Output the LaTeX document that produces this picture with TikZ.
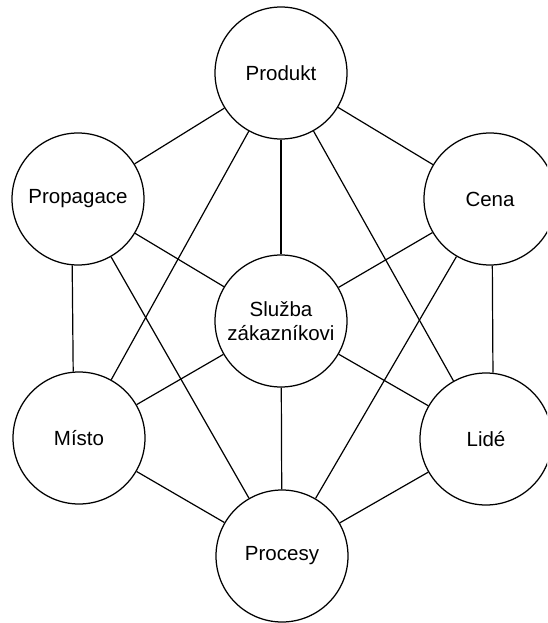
\documentclass[tikz,border=0pt]{standalone}
\usepackage{fontspec}
\setmainfont{Liberation Sans}
\begin{document}
\begin{tikzpicture}[x=1pt, y=-1pt,
  element/.style={draw, circle, line width=1.25pt, minimum size=132pt,
    inner sep=0pt, align=center, font=\fontsize{20.5}{23.5}\selectfont},
  link/.style={line width=1.2pt}]
  % page frame; the right-hand circles run past its edge
  \clip (0,0) rectangle (547,623);
  \useasboundingbox (0,0) rectangle (547,623);

  % the seven elements
  \node[element] (prod)  at (281,73)  {Produkt};
  \node[element] (prop)  at (78,199)  {Propagace};
  \node[element] (cena)  at (490,199) {Cena};
  \node[element] (sluz)  at (281,321) {Služba\\zákazníkovi};
  \node[element] (misto) at (79,438)  {Místo};
  \node[element] (lide)  at (486,439) {Lidé};
  \node[element] (proc)  at (282,556) {Procesy};

  % links from Produkt
  \draw[link] (prod) -- (prop);
  \draw[link] (prod) -- (cena);
  \draw[link] (prod) -- (sluz);
  \draw[link] (prod) -- (misto);
  \draw[link] (prod) -- (lide);
  % links from Propagace
  \draw[link] (prop) -- (sluz);
  \draw[link] (prop.265) -- (misto.95);
  \draw[link] (prop) -- (proc);
  % links from Cena
  \draw[link] (cena) -- (sluz);
  \draw[link] (cena.272) -- (lide.84);
  \draw[link] (cena) -- (proc);
  % links from the centre
  \draw[link] (sluz) -- (misto);
  \draw[link] (sluz) -- (lide);
  \draw[link] (sluz) -- (proc);
  % bottom links
  \draw[link] (misto) -- (proc);
  \draw[link] (lide) -- (proc);
\end{tikzpicture}
\end{document}
